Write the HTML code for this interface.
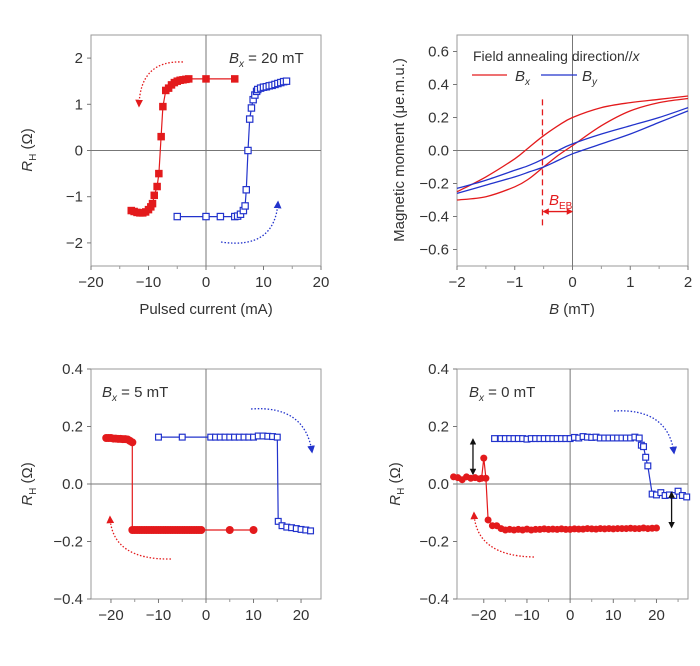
<!DOCTYPE html>
<html><head><meta charset="utf-8"><style>
body{margin:0;background:#fff}
svg{display:block}
text{font-family:"Liberation Sans",sans-serif;fill:#333}
</style></head><body>
<svg id="fig" width="700" height="666" viewBox="0 0 700 666" xmlns="http://www.w3.org/2000/svg">
<defs>
<marker id="ahR" viewBox="0 0 10 10" refX="8" refY="5" markerWidth="6" markerHeight="6" orient="auto"><path d="M0,0L10,5L0,10z" fill="#e31a1c"/></marker>
<marker id="ahB" viewBox="0 0 10 10" refX="8" refY="5" markerWidth="6" markerHeight="6" orient="auto"><path d="M0,0L10,5L0,10z" fill="#2233cc"/></marker>
<marker id="ahK" viewBox="0 0 10 10" refX="8" refY="5" markerWidth="5" markerHeight="5" orient="auto-start-reverse"><path d="M0,0L10,5L0,10z" fill="#111"/></marker>
<marker id="ahR2" viewBox="0 0 10 10" refX="8" refY="5" markerWidth="5" markerHeight="5" orient="auto-start-reverse"><path d="M0,0L10,5L0,10z" fill="#e31a1c"/></marker>
</defs>
</svg>
<script>
// Panel A data (pulsed current vs RH, Bx=20 mT)
const aRedX=[5,0,-3,-3.5,-4,-4.5,-5,-5.5,-6,-6.5,-7,-7.5,-7.8,-8.2,-8.5,-9,-9.3,-9.6,-10,-10.5,-11,-11.5,-12,-12.5,-13];
const aRedY=[1.55,1.55,1.55,1.54,1.53,1.52,1.5,1.47,1.42,1.35,1.3,0.95,0.3,-0.5,-0.78,-0.97,-1.15,-1.22,-1.28,-1.33,-1.35,-1.35,-1.34,-1.32,-1.3];
const aBlueX=[-5,0,2.5,5,5.5,6,6.5,6.8,7,7.3,7.6,7.9,8.2,8.5,8.8,9,9.5,10,10.5,11,11.5,12,12.5,13,13.5,14];
const aBlueY=[-1.43,-1.43,-1.43,-1.43,-1.42,-1.38,-1.3,-1.2,-0.85,0,0.68,0.92,1.1,1.2,1.28,1.32,1.35,1.37,1.38,1.4,1.41,1.43,1.45,1.47,1.49,1.5];
// Panel B data (M vs B)
const bX=[-2,-1.5,-1,-0.75,-0.5,-0.25,0,0.5,1,1.5,2];
const bRedUp=[-0.25,-0.16,-0.05,0.02,0.09,0.15,0.2,0.26,0.29,0.31,0.33];
const bRedLow=[-0.3,-0.28,-0.22,-0.17,-0.1,-0.03,0.03,0.15,0.24,0.29,0.315];
const bBlueUp=[-0.23,-0.18,-0.12,-0.09,-0.05,0,0.04,0.1,0.15,0.2,0.26];
const bBlueLow=[-0.26,-0.21,-0.16,-0.13,-0.1,-0.06,-0.02,0.04,0.1,0.17,0.24];
// Panel C data (Bx=5 mT)
const cRedX=[-21,-20.5,-20,-19.5,-19,-18.5,-18,-17.5,-17,-16.5,-16,-15.5,-15.5,-15,-14.5,-14,-13.5,-13,-12.5,-12,-11.5,-11,-10.5,-10,-9.5,-9,-8.5,-8,-7.5,-7,-6.5,-6,-5.5,-5,-4.5,-4,-3.5,-3,-2.5,-2,-1.5,-1,5,10];
const cRedY=[0.16,0.16,0.16,0.158,0.158,0.157,0.157,0.156,0.156,0.155,0.15,0.145,-0.16,-0.16,-0.16,-0.16,-0.16,-0.16,-0.16,-0.16,-0.16,-0.16,-0.16,-0.16,-0.16,-0.16,-0.16,-0.16,-0.16,-0.16,-0.16,-0.16,-0.16,-0.16,-0.16,-0.16,-0.16,-0.16,-0.16,-0.16,-0.16,-0.16,-0.16,-0.16];
const cBlueX=[-10,-5,1,2,3,4,5,6,7,8,9,10,11,12,13,14,15,15.2,16,17,18,19,20,21,22];
const cBlueY=[0.163,0.163,0.163,0.163,0.163,0.163,0.163,0.163,0.163,0.163,0.163,0.163,0.167,0.167,0.166,0.165,0.163,-0.13,-0.145,-0.15,-0.152,-0.155,-0.158,-0.16,-0.163];
// Panel D data (Bx=0 mT)
const dRedX=[-27,-26,-25,-24,-23,-22,-21,-20.5,-20,-19.5,-19,-18,-17,-16,-15,-14,-13,-12,-11,-10,-9,-8,-7,-6,-5,-4,-3,-2,-1,0,1,2,3,4,5,6,7,8,9,10,11,12,13,14,15,16,17,18,19,20];
const dRedY=[0.025,0.022,0.015,0.025,0.02,0.022,0.018,0.02,0.09,0.02,-0.125,-0.145,-0.145,-0.155,-0.16,-0.158,-0.16,-0.158,-0.16,-0.157,-0.16,-0.158,-0.158,-0.156,-0.158,-0.157,-0.158,-0.156,-0.158,-0.158,-0.156,-0.157,-0.157,-0.155,-0.156,-0.157,-0.155,-0.156,-0.155,-0.156,-0.155,-0.155,-0.155,-0.154,-0.155,-0.155,-0.153,-0.155,-0.154,-0.153];
const dBlueX=[-17.5,-16,-15,-14,-13,-12,-11,-10,-9,-8,-7,-6,-5,-4,-3,-2,-1,0,1,2,3,4,5,6,7,8,9,10,11,12,13,14,15,16,16.5,17,17.5,18,19,20,21,22,23,24,25,26,27];
const dBlueY=[0.158,0.158,0.158,0.158,0.158,0.158,0.158,0.156,0.158,0.158,0.158,0.158,0.158,0.158,0.158,0.158,0.158,0.158,0.162,0.16,0.165,0.163,0.162,0.163,0.16,0.16,0.16,0.16,0.16,0.16,0.16,0.16,0.163,0.16,0.135,0.13,0.093,0.063,-0.035,-0.038,-0.03,-0.04,-0.038,-0.04,-0.025,-0.04,-0.045];
// Tick labels
const aXTicks=[-20,-10,0,10,20], aYTicks=[-2,-1,0,1,2];
const bXTicks=[-2,-1,0,1,2], bYTicks=[-0.6,-0.4,-0.2,0.0,0.2,0.4,0.6];
const cXTicks=[-20,-10,0,10,20], cYTicks=[-0.4,-0.2,0.0,0.2,0.4];
const dXTicks=[-20,-10,0,10,20], dYTicks=[-0.4,-0.2,0.0,0.2,0.4];

const NS='http://www.w3.org/2000/svg';
const svg=document.getElementById('fig');
const RED='#e31a1c', BLUE='#2233cc';
function mk(tag,attrs,parent){const e=document.createElementNS(NS,tag);for(const k in attrs)e.setAttribute(k,attrs[k]);(parent||svg).appendChild(e);return e;}
function fmt(v,dec){return (v<0?'\u2212':'')+Math.abs(v).toFixed(dec);}

function panel(name,L,R,T,B,x0,x1,y0,y1,xt,yt,dec,minorX){
  const g=mk('g',{});
  
  
  const sx=v=>L+(v-x0)/(x1-x0)*(R-L);
  const sy=v=>B-(v-y0)/(y1-y0)*(B-T);
  const fr=mk('rect',{x:L,y:T,width:R-L,height:B-T,fill:'none',stroke:'#999','stroke-width':1},g);
  
  
  const zx=mk('line',{x1:sx(0),x2:sx(0),y1:T,y2:B,stroke:'#777','stroke-width':1},g);
  
  
  const zy=mk('line',{x1:L,x2:R,y1:sy(0),y2:sy(0),stroke:'#777','stroke-width':1},g);
  
  
  xt.forEach(v=>{
    mk('line',{x1:sx(v),x2:sx(v),y1:B,y2:B+4,stroke:'#777'},g);
    const t=mk('text',{x:sx(v),y:B+21,'text-anchor':'middle','font-size':15},g);
    t.textContent=fmt(v,0);
    
    
  });
  minorX.forEach(v=>mk('line',{x1:sx(v),x2:sx(v),y1:B,y2:B+3,stroke:'#999'},g));
  yt.forEach(v=>{
    mk('line',{x1:L-4,x2:L,y1:sy(v),y2:sy(v),stroke:'#777'},g);
    const t=mk('text',{x:L-8,y:sy(v)+5,'text-anchor':'end','font-size':15},g);
    t.textContent=fmt(v,dec);
    
    
  });
  return {g,sx,sy};
}
function series(p,xs,ys,color,shape,size,name){
  const sg=mk('g',{},p.g);
  
  
  const d=xs.map((x,i)=>(i?'L':'M')+p.sx(x).toFixed(1)+','+p.sy(ys[i]).toFixed(1)).join('');
  mk('path',{d:d,fill:'none',stroke:color,'stroke-width':1.2},sg);
  xs.forEach((x,i)=>{
    let m;
    if(shape==='fsq') m=mk('rect',{x:p.sx(x)-size/2,y:p.sy(ys[i])-size/2,width:size,height:size,fill:color},sg);
    else if(shape==='osq') m=mk('rect',{x:p.sx(x)-size/2+0.6,y:p.sy(ys[i])-size/2+0.6,width:size-1.2,height:size-1.2,fill:'#fff',stroke:color,'stroke-width':1.2},sg);
    else m=mk('circle',{cx:p.sx(x),cy:p.sy(ys[i]),r:size/2,fill:color},sg);
    
    
  });
}
function curve(p,xs,ys,color,name){
  const P=xs.map((x,i)=>[p.sx(x),p.sy(ys[i])]);
  let d='M'+P[0][0].toFixed(1)+','+P[0][1].toFixed(1);
  for(let i=0;i<P.length-1;i++){
    const p0=P[Math.max(0,i-1)],p1=P[i],p2=P[i+1],p3=P[Math.min(P.length-1,i+2)];
    const c1=[p1[0]+(p2[0]-p0[0])/6,p1[1]+(p2[1]-p0[1])/6];
    const c2=[p2[0]-(p3[0]-p1[0])/6,p2[1]-(p3[1]-p1[1])/6];
    d+=`C${c1[0].toFixed(1)},${c1[1].toFixed(1)} ${c2[0].toFixed(1)},${c2[1].toFixed(1)} ${p2[0].toFixed(1)},${p2[1].toFixed(1)}`;
  }
  const e=mk('path',{d:d,fill:'none',stroke:color,'stroke-width':1.3,'stroke-linejoin':'round'},p.g);
  
  
}
function dotArrow(x1,y1,x2,y2,cx,cy,color,mid,name){
  const e=mk('path',{d:`M${x1},${y1}Q${cx},${cy} ${x2},${y2}`,fill:'none',stroke:color,'stroke-width':1.3,'stroke-dasharray':'1.5 1.8','marker-end':`url(#${mid})`});
  
  
}
function label(x,y,html,size,name,anchor,rot){
  const t=mk('text',{x:x,y:y,'font-size':size,'text-anchor':anchor||'start'});
  if(rot) t.setAttribute('transform',`rotate(-90 ${x} ${y})`);
  t.innerHTML=html;
  
  
  return t;
}

// Panel A
const pA=panel('panel-a',91,321,35,266,-20,20,-2.5,2.5,aXTicks,aYTicks,0,[-15,-5,5,15]);
series(pA,aRedX,aRedY,RED,'fsq',7.5,'series-red-filled');
series(pA,aBlueX,aBlueY,BLUE,'osq',7.5,'series-blue-open');
label(206,314,'Pulsed current (mA)',15,'x-axis-title','middle');
label(32,150,'<tspan font-style="italic">R</tspan><tspan font-size="10" dy="4">H</tspan><tspan dy="-4"> (Ω)</tspan>',15,'y-axis-title','middle',true);
label(229,63,'<tspan font-style="italic">B</tspan><tspan font-size="10" font-style="italic" dy="4">x</tspan><tspan dy="-4"> = 20 mT</tspan>',15,'field-label');
dotArrow(183,62,139,106,140,60,RED,'ahR','red-sweep-arrow');
dotArrow(221,242,278,202,275,250,BLUE,'ahB','blue-sweep-arrow');

// Panel B
const pB=panel('panel-b',457,688,35,266,-2,2,-0.7,0.7,bXTicks,bYTicks,1,[-1.5,-0.5,0.5,1.5]);
curve(pB,bX,bRedUp,RED,'bx-upper-branch');
curve(pB,bX,bRedLow,RED,'bx-lower-branch');
curve(pB,bX,bBlueUp,BLUE,'by-upper-branch');
curve(pB,bX,bBlueLow,BLUE,'by-lower-branch');
const dv=mk('line',{x1:pB.sx(-0.52),x2:pB.sx(-0.52),y1:pB.sy(0.31),y2:pB.sy(-0.46),stroke:RED,'stroke-width':1.3,'stroke-dasharray':'6 4'});


const ba=mk('line',{x1:pB.sx(-0.5),x2:pB.sx(-0.01),y1:pB.sy(-0.37),y2:pB.sy(-0.37),stroke:RED,'stroke-width':1.3,'marker-start':'url(#ahR2)','marker-end':'url(#ahR2)'});


label(549,205,'<tspan font-style="italic">B</tspan><tspan font-size="10" dy="4">EB</tspan>',15,'beb-label').style.fill=RED;
label(473,61,'Field annealing direction//<tspan font-style="italic">x</tspan>',14,'legend-title');
const l1=mk('line',{x1:472,x2:507,y1:75,y2:75,stroke:RED,'stroke-width':1.3});


label(515,81,'<tspan font-style="italic">B</tspan><tspan font-size="10" font-style="italic" dy="4">x</tspan>',15,'legend-bx-label');
const l2=mk('line',{x1:541,x2:577,y1:75,y2:75,stroke:BLUE,'stroke-width':1.3});


label(582,81,'<tspan font-style="italic">B</tspan><tspan font-size="10" font-style="italic" dy="4">y</tspan>',15,'legend-by-label');
label(572,314,'<tspan font-style="italic">B</tspan> (mT)',15,'x-axis-title','middle');
label(404,150,'Magnetic moment (μe.m.u.)',15,'y-axis-title','middle',true);

// Panel C
const pC=panel('panel-c',91,321,369,599,-24.2,24.2,-0.4,0.4,cXTicks,cYTicks,1,[-15,-5,5,15]);
series(pC,cRedX,cRedY,RED,'circ',8,'series-red-filled');
series(pC,cBlueX,cBlueY,BLUE,'osq',7,'series-blue-open');
label(32,484,'<tspan font-style="italic">R</tspan><tspan font-size="10" dy="4">H</tspan><tspan dy="-4"> (Ω)</tspan>',15,'y-axis-title','middle',true);
label(102,397,'<tspan font-style="italic">B</tspan><tspan font-size="10" font-style="italic" dy="4">x</tspan><tspan dy="-4"> = 5 mT</tspan>',15,'field-label');
dotArrow(171,559,110,517,112,560,RED,'ahR','red-sweep-arrow');
dotArrow(251,409,312,452,305,405,BLUE,'ahB','blue-sweep-arrow');

// Panel D
const pD=panel('panel-d',457,688,369,599,-26.2,27.3,-0.4,0.4,dXTicks,dYTicks,1,[-15,-5,5,15,25]);
series(pD,dRedX,dRedY,RED,'circ',7,'series-red-filled');
series(pD,dBlueX,dBlueY,BLUE,'osq',7,'series-blue-open');
label(400,484,'<tspan font-style="italic">R</tspan><tspan font-size="10" dy="4">H</tspan><tspan dy="-4"> (Ω)</tspan>',15,'y-axis-title','middle',true);
label(469,397,'<tspan font-style="italic">B</tspan><tspan font-size="10" font-style="italic" dy="4">x</tspan><tspan dy="-4"> = 0 mT</tspan>',15,'field-label');
dotArrow(534,557,474,513,476,556,RED,'ahR','red-sweep-arrow');
dotArrow(614,411,674,453,668,408,BLUE,'ahB','blue-sweep-arrow');
const k1=mk('line',{x1:pD.sx(-22.5),x2:pD.sx(-22.5),y1:pD.sy(0.155),y2:pD.sy(0.035),stroke:'#111','stroke-width':1.3,'marker-start':'url(#ahK)','marker-end':'url(#ahK)'});


const k2=mk('line',{x1:pD.sx(23.5),x2:pD.sx(23.5),y1:pD.sy(-0.03),y2:pD.sy(-0.15),stroke:'#111','stroke-width':1.3,'marker-start':'url(#ahK)','marker-end':'url(#ahK)'});


</script>
</body></html>
